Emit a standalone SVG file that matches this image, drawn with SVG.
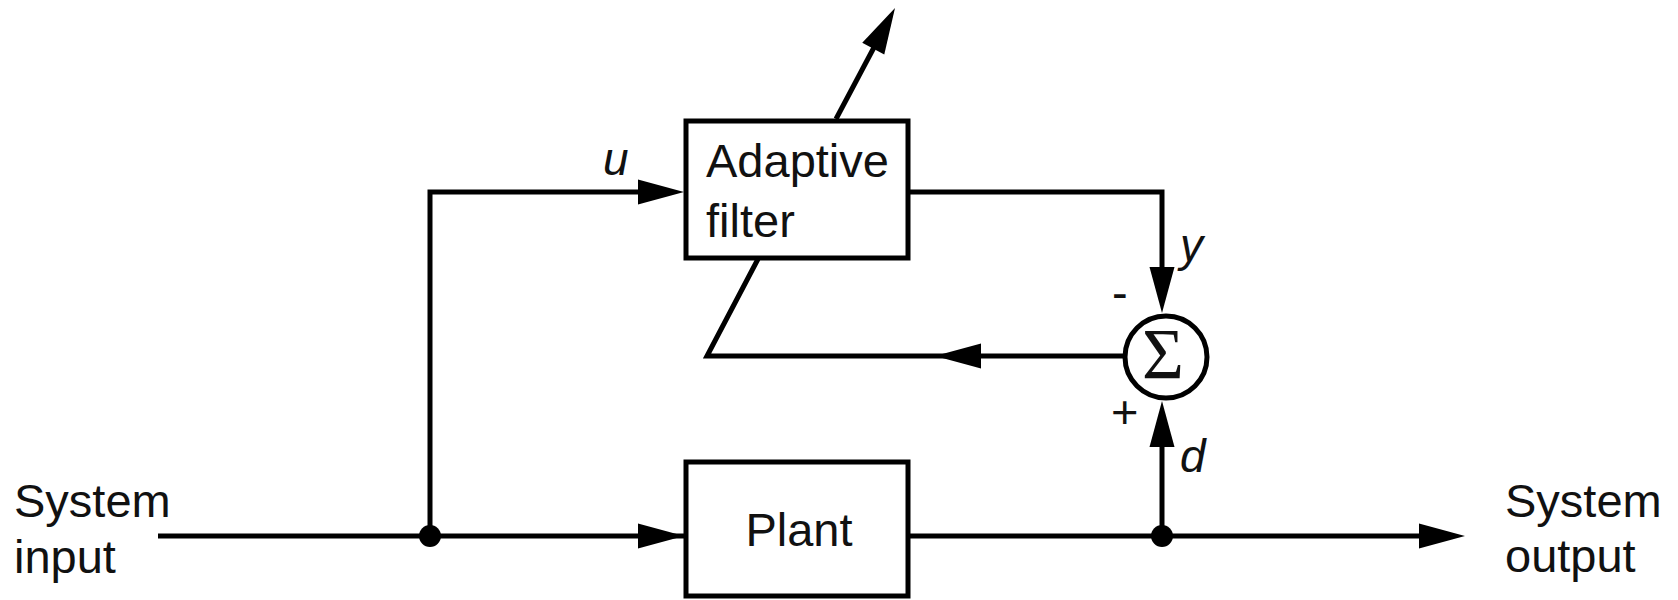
<svg xmlns="http://www.w3.org/2000/svg" xmlns:xlink="http://www.w3.org/1999/xlink" width="1678" height="600" viewBox="0 0 1678 600">
<style>
.box{fill:#fff;stroke:#000;stroke-width:5}
.ln{fill:none;stroke:#000;stroke-width:5;stroke-linejoin:miter}
.t{font-family:"Liberation Sans",Arial,sans-serif;font-size:47px;fill:#111}
.it{font-family:"Liberation Sans",Arial,sans-serif;font-size:46px;font-style:italic;fill:#111}
.sg{font-family:"Liberation Serif","Times New Roman",serif;font-size:72px;fill:#111}
</style>
<defs>
<path id="ah" d="M0,0 L-46,-12.5 L-46,12.5 z" fill="#000"/>
</defs>
<rect width="1678" height="600" fill="#fff"/>
<g id="connectors">
<polyline class="ln" points="158,536 686,536"/>
<polyline class="ln" points="430,536 430,192 670,192"/>
<polyline class="ln" points="908,536 1450,536"/>
<polyline class="ln" points="908,192 1162,192 1162,300"/>
<polyline class="ln" points="1162,536 1162,415"/>
<polyline class="ln" points="1125,356 707,356 758,259"/>
<line class="ln" x1="836" y1="119" x2="888" y2="21"/>
<use xlink:href="#ah" transform="translate(684,192)"/>
<use xlink:href="#ah" transform="translate(684,536)"/>
<use xlink:href="#ah" transform="translate(1465,536)"/>
<use xlink:href="#ah" transform="translate(1162,313) rotate(90)"/>
<use xlink:href="#ah" transform="translate(1162,401) rotate(-90)"/>
<use xlink:href="#ah" transform="translate(935,356) rotate(180)"/>
<use xlink:href="#ah" transform="translate(895,8) rotate(-61.8)"/>
<circle cx="430" cy="536" r="11" fill="#000"/>
<circle cx="1162" cy="536" r="11" fill="#000"/>
</g>
<g id="adaptive-filter">
<rect class="box" x="686" y="121" width="222" height="137"/>
<text class="t" x="706" y="177">Adaptive</text>
<text class="t" x="706" y="237">filter</text>
</g>
<g id="plant">
<rect class="box" x="686" y="462" width="222" height="134"/>
<text class="t" x="799" y="546" text-anchor="middle">Plant</text>
</g>
<g id="sum">
<circle cx="1166" cy="357" r="41" fill="#fff" stroke="#000" stroke-width="5"/>
<text class="sg" x="1163" y="378" text-anchor="middle">Σ</text>
<text class="t" x="1112" y="309">-</text>
<text class="t" x="1111" y="428">+</text>
</g>
<g id="labels">
<text class="it" x="603" y="175">u</text>
<text class="it" x="1180" y="261">y</text>
<text class="it" x="1180" y="472">d</text>
<text class="t" x="14" y="517">System</text>
<text class="t" x="14" y="573">input</text>
<text class="t" x="1505" y="517">System</text>
<text class="t" x="1505" y="572">output</text>
</g>
</svg>
